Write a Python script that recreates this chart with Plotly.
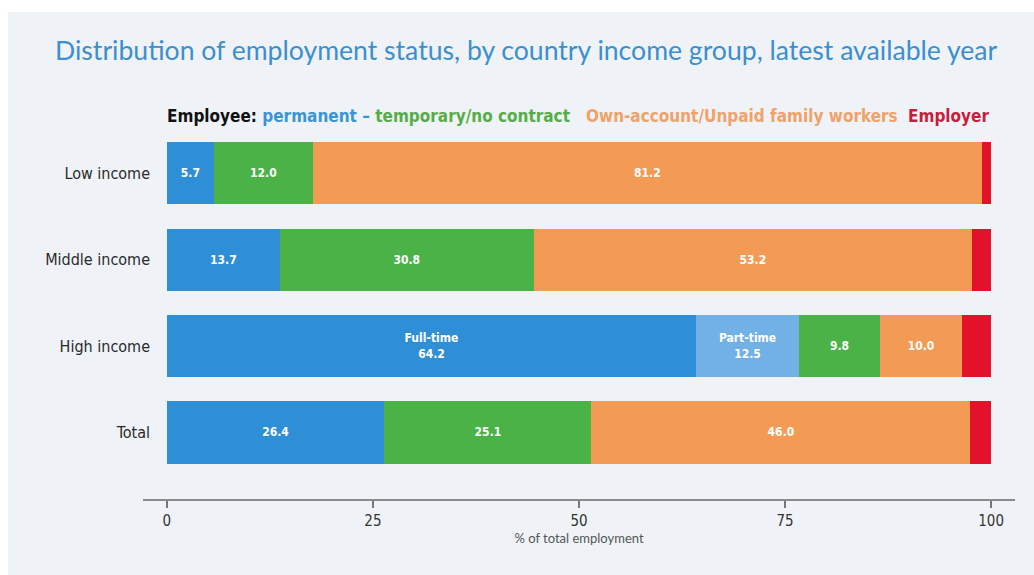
import plotly.graph_objects as go

# Income groups (top to bottom) and shares of total employment (%)
groups = ["Low income", "Middle income", "High income", "Total"]
permanent_fulltime = [5.7, 13.7, 64.2, 26.4]
permanent_parttime = [0.0, 0.0, 12.5, 0.0]
temporary = [12.0, 30.8, 9.8, 25.1]
own_account = [81.2, 53.2, 10.0, 46.0]
employer = [1.1, 2.3, 3.5, 2.5]

x_ticks = [0, 25, 50, 75, 100]

BLUE = "#2f8fd6"
LIGHT_BLUE = "#72b1e6"
GREEN = "#4bb248"
ORANGE = "#f39b55"
RED = "#e2122b"
PANEL = "#eff3f8"

NARROW = "DejaVu Sans Condensed, Liberation Sans Narrow, Arial Narrow, sans-serif"

fig = go.Figure()


def fmt(v):
    return f"{v:.1f}"


def add_segment(values, color, labels):
    fig.add_trace(go.Bar(
        y=groups,
        x=values,
        orientation="h",
        marker=dict(color=color, line=dict(width=0)),
        text=labels,
        textposition="inside",
        insidetextanchor="middle",
        textangle=0,
        textfont=dict(family=NARROW, size=12, color="white", weight="bold"),
        cliponaxis=False,
        showlegend=False,
        hoverinfo="x+y",
    ))


full_labels = [fmt(v) for v in permanent_fulltime]
full_labels[2] = "Full-time<br>" + fmt(permanent_fulltime[2])
add_segment(permanent_fulltime, BLUE, full_labels)

part_labels = ["" if v == 0 else "Part-time<br>" + fmt(v) for v in permanent_parttime]
add_segment(permanent_parttime, LIGHT_BLUE, part_labels)

add_segment(temporary, GREEN, [fmt(v) for v in temporary])
add_segment(own_account, ORANGE, [fmt(v) for v in own_account])
add_segment(employer, RED, ["" for _ in employer])

# Category key drawn above the bars
KEY_Y = 1.038
fig.add_annotation(
    xref="x", yref="paper", x=-0.2, y=KEY_Y, xanchor="left", yanchor="middle",
    showarrow=False,
    text=("<b><span style='color:#111111'>Employee:</span> "
          "<span style='color:#3a95d8'>permanent</span> "
          "<span style='color:#3a95d8'>–</span> "
          "<span style='color:#56ad47'>temporary/no contract</span></b>"),
    font=dict(family=NARROW, size=17),
)
fig.add_annotation(
    xref="x", yref="paper", x=50.6, y=KEY_Y, xanchor="left", yanchor="middle",
    showarrow=False,
    text="<b>Own-account/Unpaid family workers</b>",
    font=dict(family=NARROW, size=17, color="#f0a268"),
)
fig.add_annotation(
    xref="x", yref="paper", x=100, y=KEY_Y, xanchor="right", yanchor="middle",
    showarrow=False,
    text="<b>Employer</b>",
    font=dict(family=NARROW, size=17, color="#c91d3c"),
)

# Title
fig.add_annotation(
    xref="paper", yref="paper", x=0.44, y=1.217, xanchor="center", yanchor="middle",
    showarrow=False,
    text="Distribution of employment status, by country income group, latest available year",
    font=dict(family="Lato, Open Sans, sans-serif", size=26.6, color="#3b8fd0"),
)

# White frame strips around the panel
fig.add_shape(type="rect", xref="paper", yref="paper", x0=-0.2, x1=1.1, y0=1.32, y1=1.4,
              fillcolor="white", line=dict(width=0), layer="below")
fig.add_shape(type="rect", xref="paper", yref="paper", x0=-0.2, x1=-0.155, y0=-0.3, y1=1.4,
              fillcolor="white", line=dict(width=0), layer="below")

fig.update_layout(
    barmode="stack",
    bargap=0.28,
    width=1034,
    height=575,
    margin=dict(l=143, r=19, t=130, b=76),
    paper_bgcolor=PANEL,
    plot_bgcolor=PANEL,
    xaxis=dict(
        range=[-2.9, 102.9],
        tickvals=x_ticks,
        ticktext=[str(v) for v in x_ticks],
        showgrid=False,
        zeroline=False,
        showline=True,
        linecolor="#8a8a8a",
        linewidth=2,
        ticks="outside",
        ticklen=7,
        tickwidth=1.5,
        tickcolor="#777777",
        tickfont=dict(family=NARROW, size=15, color="#333333"),
        title=dict(text="% of total employment",
                   font=dict(family="Lato, sans-serif", size=13, color="#555555"),
                   standoff=4),
        fixedrange=True,
    ),
    yaxis=dict(
        categoryorder="array",
        categoryarray=groups,
        range=[3.77, -0.5],
        showgrid=False,
        zeroline=False,
        showline=False,
        ticks="",
        ticklabelstandoff=-8,
        tickfont=dict(family=NARROW, size=16, color="#2a2a2a"),
        fixedrange=True,
    ),
    uniformtext=dict(minsize=8, mode="show"),
)

fig.write_html("out.html")
